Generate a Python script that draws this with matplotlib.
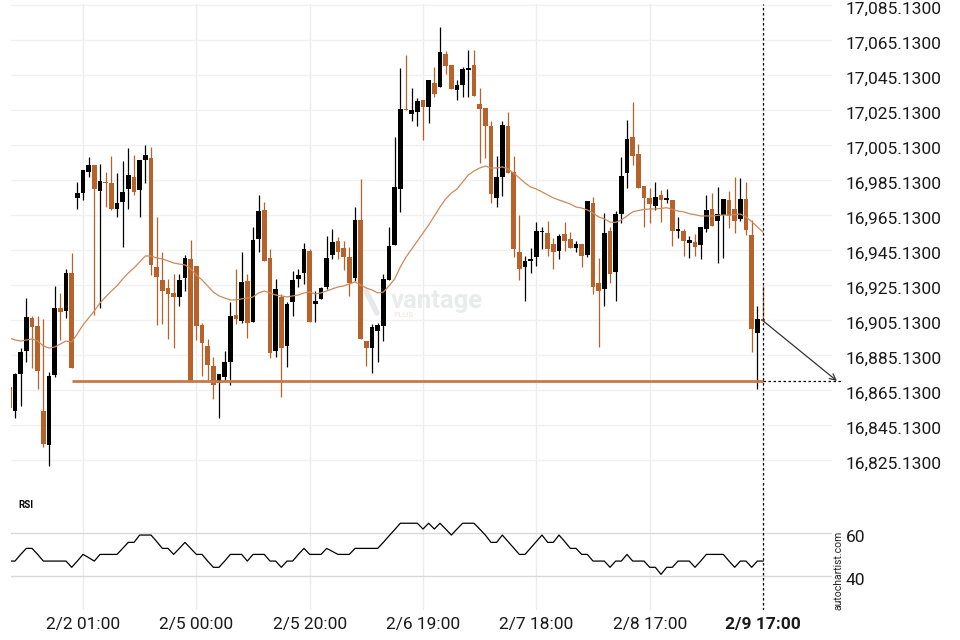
import matplotlib.pyplot as plt
import matplotlib.ticker as mticker
import matplotlib.transforms as mtrans
import numpy as np

plt.rcParams['font.family'] = ['Roboto', 'DejaVu Sans']

# hourly candles, the last one is 2/9 17:00
opens = [16867.0, 16853.3, 16874.1, 16887.6, 16906.3, 16901.7, 16853.1, 16833.9, 16873.9, 16912.0,
         16910.5, 16931.8, 16975.0, 16977.9, 16989.7, 16993.7, 16979.0, 16984.0, 16983.4, 16968.7,
         16972.7, 16979.8, 16986.9, 16979.6, 16996.4, 16997.7, 16935.6, 16928.0, 16923.4, 16920.6,
         16918.1, 16929.0, 16940.0, 16936.0, 16902.3, 16890.3, 16878.9, 16869.0, 16872.8, 16881.3,
         16908.0, 16904.6, 16927.4, 16904.0, 16951.6, 16968.0, 16940.6, 16887.6, 16918.1, 16890.5,
         16915.6, 16928.7, 16931.8, 16944.6, 16914.1, 16917.0, 16924.2, 16942.1, 16950.3, 16946.1,
         16941.0, 16929.0, 16962.3, 16893.1, 16889.3, 16899.0, 16901.7, 16928.0, 16948.0, 16980.2,
         17025.7, 17023.0, 17024.2, 17030.9, 17027.0, 17040.6, 17038.5, 17057.3, 17050.9, 17036.6,
         17039.4, 17048.0, 17050.9, 17028.6, 17026.1, 17016.0, 16975.0, 16987.0, 17016.0, 16989.7,
         16943.8, 16935.6, 16939.0, 16941.3, 16955.3, 16954.7, 16948.6, 16944.7, 16954.3, 16951.4,
         16946.5, 16948.4, 16942.3, 16972.0, 16926.1, 16923.0, 16956.0, 16932.4, 16965.7, 16989.0,
         17009.5, 16999.8, 16981.7, 16974.7, 16970.5, 16976.6, 16973.9, 16973.7, 16956.2, 16956.2,
         16949.0, 16949.9, 16948.0, 16957.0, 16968.6, 16961.9, 16965.1, 16973.7, 16968.6, 16962.9,
         16974.3, 16953.7, 16897.9, 16905.5]
highs = [16867.0, 16875.0, 16889.0, 16917.7, 16907.4, 16907.4, 16905.5, 16875.6, 16924.6, 16920.4,
         16934.3, 16943.3, 16983.8, 16990.9, 16998.3, 16993.7, 16994.1, 16989.9, 16998.9, 16989.0,
         16995.8, 17003.3, 16999.4, 16996.6, 17005.3, 17004.2, 16964.2, 16943.8, 16928.4, 16931.3,
         16931.3, 16942.1, 16950.7, 16936.0, 16903.3, 16894.1, 16883.8, 16874.3, 16887.4, 16915.3,
         16934.3, 16943.8, 16931.3, 16958.1, 16976.6, 16972.4, 16945.5, 16928.4, 16920.0, 16915.6,
         16933.1, 16934.3, 16949.0, 16945.5, 16921.9, 16924.2, 16953.3, 16957.0, 16952.6, 16950.5,
         16947.0, 16969.5, 16985.5, 16893.1, 16903.0, 16903.3, 16931.4, 16958.5, 17009.9, 17049.0,
         17056.6, 17037.5, 17031.8, 17030.9, 17042.3, 17049.9, 17072.7, 17058.9, 17050.9, 17042.3,
         17049.5, 17059.4, 17059.4, 17037.5, 17026.1, 17018.9, 16998.9, 17018.9, 17023.8, 16998.9,
         16965.1, 16941.7, 16946.1, 16961.3, 16958.5, 16961.7, 16951.8, 16954.1, 16961.0, 16955.3,
         16950.5, 16948.4, 16973.1, 16975.3, 16940.4, 16966.1, 16958.1, 16967.6, 16998.5, 17019.4,
         17029.5, 17005.5, 16981.7, 16980.4, 16983.8, 16979.4, 16980.0, 16973.7, 16963.8, 16957.1,
         16953.1, 16954.1, 16958.1, 16976.6, 16977.5, 16981.0, 16974.3, 16979.0, 16986.7, 16986.1,
         16984.2, 16962.3, 16913.3, 16924.7]
lows = [16854.7, 16849.0, 16856.0, 16881.0, 16877.5, 16865.6, 16832.8, 16821.7, 16872.8, 16893.7,
        16906.1, 16877.5, 16968.6, 16973.7, 16987.0, 16908.0, 16911.8, 16969.9, 16968.0, 16964.2,
        16946.7, 16968.4, 16976.6, 16963.8, 16983.3, 16930.9, 16902.3, 16902.9, 16894.3, 16889.0,
        16913.2, 16921.7, 16870.5, 16893.7, 16873.2, 16870.9, 16859.8, 16849.0, 16870.5, 16868.0,
        16902.7, 16903.3, 16894.7, 16904.0, 16943.8, 16939.0, 16883.3, 16883.8, 16861.0, 16878.1,
        16907.6, 16924.2, 16925.5, 16903.8, 16903.8, 16917.0, 16922.7, 16939.8, 16939.8, 16933.7,
        16918.9, 16927.6, 16894.3, 16878.9, 16875.0, 16881.0, 16893.3, 16928.0, 16948.0, 16966.7,
        17025.1, 17018.9, 17016.0, 17008.0, 17017.9, 17032.7, 17038.0, 17045.7, 17037.1, 17030.9,
        17032.4, 17032.4, 17033.1, 16994.7, 16997.5, 16971.8, 16969.5, 16976.0, 16989.3, 16941.3,
        16928.0, 16916.0, 16931.8, 16936.2, 16945.5, 16941.7, 16934.1, 16939.8, 16944.7, 16946.3,
        16944.2, 16935.6, 16941.0, 16920.0, 16889.5, 16913.2, 16926.5, 16916.0, 16960.4, 16980.4,
        16993.7, 16980.4, 16958.5, 16960.7, 16968.0, 16961.3, 16971.8, 16947.6, 16951.8, 16941.9,
        16940.4, 16941.9, 16939.8, 16955.3, 16959.0, 16937.5, 16940.4, 16957.5, 16954.7, 16961.7,
        16953.7, 16886.7, 16865.6, 16904.7]
closes = [16854.7, 16874.3, 16886.9, 16906.9, 16901.3, 16876.2, 16834.5, 16873.2, 16912.0, 16909.9,
          16932.0, 16877.9, 16977.5, 16990.9, 16993.7, 16980.0, 16984.6, 16983.4, 16968.6, 16972.0,
          16978.1, 16988.0, 16978.5, 16996.6, 16999.3, 16936.7, 16929.5, 16921.9, 16920.2, 16918.1,
          16928.0, 16940.7, 16870.5, 16901.9, 16891.8, 16879.6, 16868.2, 16874.3, 16881.1, 16907.4,
          16905.5, 16926.9, 16903.6, 16950.9, 16967.4, 16939.0, 16886.1, 16922.9, 16889.3, 16914.3,
          16928.0, 16930.9, 16945.7, 16903.8, 16916.2, 16923.3, 16940.6, 16949.7, 16944.2, 16941.0,
          16926.5, 16962.3, 16894.3, 16889.3, 16901.0, 16902.3, 16928.6, 16947.4, 16981.0, 17025.7,
          17025.1, 17025.1, 17030.5, 17027.0, 17042.3, 17034.3, 17058.1, 17050.5, 17037.1, 17039.4,
          17048.4, 17049.0, 17033.1, 17025.9, 17016.0, 16977.1, 16986.7, 17016.6, 16989.3, 16945.7,
          16934.1, 16938.9, 16940.0, 16956.0, 16955.6, 16945.7, 16943.8, 16953.1, 16950.5, 16946.3,
          16948.6, 16941.9, 16973.1, 16924.2, 16921.9, 16955.0, 16931.3, 16965.7, 16987.4, 17008.6,
          16999.0, 16980.4, 16975.0, 16971.3, 16975.3, 16973.7, 16974.7, 16956.2, 16957.0, 16950.5,
          16950.9, 16947.0, 16958.1, 16968.0, 16959.0, 16965.7, 16974.3, 16964.7, 16961.9, 16974.3,
          16956.6, 16899.8, 16905.5, 16904.7]
ma = [16894.9, 16893.7, 16893.1, 16893.7, 16894.3, 16893.1, 16890.3, 16889.1, 16889.7, 16891.4,
      16893.1, 16892.6, 16897.2, 16902.3, 16906.3, 16910.3, 16914.9, 16918.3, 16921.7, 16924.6,
      16928.6, 16932.0, 16934.9, 16938.3, 16941.7, 16941.7, 16940.6, 16940.0, 16938.9, 16937.7,
      16937.1, 16936.6, 16934.3, 16930.9, 16928.0, 16924.6, 16921.1, 16918.9, 16917.7, 16916.6,
      16916.6, 16917.2, 16917.7, 16918.3, 16920.6, 16921.7, 16920.6, 16919.4, 16918.9, 16918.3,
      16918.9, 16919.4, 16920.6, 16921.1, 16920.0, 16920.6, 16921.7, 16922.9, 16924.0, 16924.6,
      16925.7, 16926.9, 16925.1, 16923.4, 16922.3, 16920.6, 16921.1, 16924.6, 16928.6, 16935.4,
      16941.1, 16945.7, 16950.3, 16954.9, 16959.4, 16964.6, 16969.7, 16974.3, 16977.7, 16980.0,
      16984.0, 16988.0, 16990.3, 16992.0, 16993.1, 16992.0, 16992.0, 16992.6, 16991.4, 16989.1,
      16986.3, 16983.4, 16981.1, 16980.0, 16978.3, 16976.6, 16974.9, 16973.7, 16972.6, 16971.4,
      16969.7, 16969.1, 16968.0, 16966.3, 16964.0, 16962.9, 16961.1, 16960.9, 16962.3, 16964.6,
      16966.9, 16967.7, 16968.3, 16968.6, 16968.6, 16968.9, 16969.3, 16968.3, 16967.4, 16966.9,
      16965.9, 16965.3, 16964.6, 16964.6, 16964.6, 16964.9, 16965.1, 16965.1, 16965.4, 16965.7,
      16964.0, 16961.4, 16958.3, 16955.4]
rsi = [47.1, 47.1, 50.2, 53.0, 53.0, 50.2, 47.1, 47.1, 47.1, 47.1,
       47.1, 44.2, 47.1, 50.2, 48.7, 47.1, 50.2, 50.2, 50.2, 50.2,
       53.0, 55.8, 55.8, 59.2, 59.2, 59.2, 56.2, 53.0, 53.0, 50.2,
       53.0, 55.8, 53.0, 50.2, 50.2, 47.1, 44.2, 44.2, 47.1, 50.2,
       50.2, 50.2, 47.1, 50.2, 50.2, 50.2, 47.1, 47.1, 44.2, 47.1,
       47.1, 50.2, 53.0, 50.2, 50.2, 50.2, 53.0, 51.6, 50.2, 50.2,
       50.2, 53.0, 53.0, 53.0, 53.0, 53.0, 55.8, 58.8, 61.7, 64.7,
       64.7, 64.7, 64.7, 62.0, 64.7, 62.0, 64.7, 62.0, 59.2, 62.0,
       64.7, 64.7, 64.7, 62.0, 59.2, 55.8, 55.8, 59.2, 56.2, 53.2,
       50.2, 50.2, 53.2, 56.2, 59.2, 55.8, 55.8, 59.2, 56.2, 53.0,
       53.0, 50.2, 50.2, 47.1, 47.1, 47.1, 44.2, 47.1, 47.1, 50.2,
       47.1, 47.1, 47.1, 44.2, 44.2, 40.9, 44.2, 44.2, 47.1, 47.1,
       47.1, 44.2, 47.1, 50.2, 50.2, 50.2, 50.2, 47.1, 44.2, 47.1,
       47.1, 44.2, 47.1, 47.1]

tick_pos = [13, 33, 53, 73, 93, 113, 133]
tick_labels = ['2/2 01:00', '2/5 00:00', '2/5 20:00', '2/6 19:00', '2/7 18:00', '2/8 17:00', '2/9 17:00']
price_ticks = [16825.13, 16845.13, 16865.13, 16885.13, 16905.13, 16925.13, 16945.13,
               16965.13, 16985.13, 17005.13, 17025.13, 17045.13, 17065.13, 17085.13]
rsi_ticks = [40, 60]
support = 16870.3
support_start = 11
now_idx = 133

ORANGE = '#b8622b'
W, H = 960, 640

o = np.array(opens)
h = np.array(highs)
l = np.array(lows)
c = np.array(closes)
x = np.arange(len(o))

fig = plt.figure(figsize=(9.6, 6.4), dpi=100)
fig.patch.set_facecolor('white')
ax = fig.add_axes([11 / W, 1 - 480 / H, 821 / W, 476 / H])
ax_rsi = fig.add_axes([11 / W, 1 - 610 / H, 821 / W, 130 / H])

for a in (ax, ax_rsi):
    a.set_xlim(0.294, 145.176)
    for s in a.spines.values():
        s.set_visible(False)
    a.set_xticks(tick_pos)
    a.tick_params(length=0)
    for t in tick_pos:
        a.axvline(t, color='#ececec', lw=1, zorder=0)
    a.axvline(now_idx, color='black', lw=0.9, ls=(0, (2, 2)), zorder=5)

# price panel
ax.set_ylim(16813.7, 17085.7)
for p in price_ticks:
    ax.axhline(p, color='#f1f1f1', lw=1, zorder=0)
ax.set_yticks(price_ticks)
ax.yaxis.tick_right()
ax.yaxis.set_major_formatter(mticker.FuncFormatter(lambda v, _: f'{v:,.4f}'))
ax.tick_params(axis='y', pad=10, labelsize=12.5, labelcolor='#1a1a1a')
ax.tick_params(axis='x', labelbottom=False)

colors = np.where(c >= o, 'black', ORANGE)
ax.vlines(x, l, h, colors=colors, lw=0.9, zorder=2)
ax.bar(x, np.maximum(np.abs(c - o), 0.7), bottom=np.minimum(o, c), width=0.78,
       color=colors, lw=0, zorder=3)
ax.plot(x, ma, color='#cc8a5c', lw=0.9, zorder=4)
ax.plot([support_start, now_idx], [support, support], color='#c8784a', lw=2.0,
        solid_capstyle='butt', zorder=4)

# projection to the support level
ax.plot([now_idx, 146.9], [support, support], color='black', lw=0.9, ls=(0, (2, 2)),
        clip_on=False, zorder=5)
ax.annotate('', xy=(146.05, support), xytext=(now_idx, c[-1]),
            arrowprops=dict(arrowstyle='->', color='#333333', lw=0.9,
                            shrinkA=0, shrinkB=0, mutation_scale=11),
            annotation_clip=False, zorder=6)

# watermark
ax.text(437 / W, 1 - 301 / H, 'vantage', transform=fig.transFigure, fontsize=18.5,
        fontweight='bold', color='#eaecec', ha='center', va='center', zorder=1)
ax.text(393 / W, 1 - 315 / H, 'PLUS', transform=fig.transFigure, fontsize=6,
        color='#f5e3d8', ha='left', va='center', zorder=1)
ax.plot([366 / W, 377 / W], [1 - 291 / H, 1 - 313 / H], transform=fig.transFigure,
        color='#e6e9e9', lw=4, solid_capstyle='round', zorder=1)

# RSI panel
ax_rsi.set_ylim(24.34, 84.81)
for r in rsi_ticks:
    ax_rsi.axhline(r, color='#d9d9d9', lw=1, zorder=0)
ax_rsi.plot(x, rsi, color='black', lw=0.9, zorder=3)
ax_rsi.set_yticks(rsi_ticks)
ax_rsi.yaxis.tick_right()
ax_rsi.tick_params(axis='y', pad=10, labelsize=12.5, labelcolor='#1a1a1a')
ax_rsi.set_xticklabels(tick_labels)
ax_rsi.tick_params(axis='x', pad=5, labelsize=12.5, labelcolor='#1a1a1a')
ax_rsi.get_xticklabels()[-1].set_fontweight('bold')

# value labels sit a little below their grid lines
shift = mtrans.ScaledTranslation(0, -3 / 100, fig.dpi_scale_trans)
for lab in ax.get_yticklabels() + ax_rsi.get_yticklabels():
    lab.set_transform(lab.get_transform() + shift)

fig.text(18 / W, 1 - 505 / H, 'RSI', fontsize=7, fontweight='bold', va='center')
fig.text(838 / W, 1 - 570 / H, 'autochartist.com', rotation=90, fontsize=7.5,
         ha='center', va='center', color='#222222')

plt.savefig('out.png', dpi=100)
plt.close()
